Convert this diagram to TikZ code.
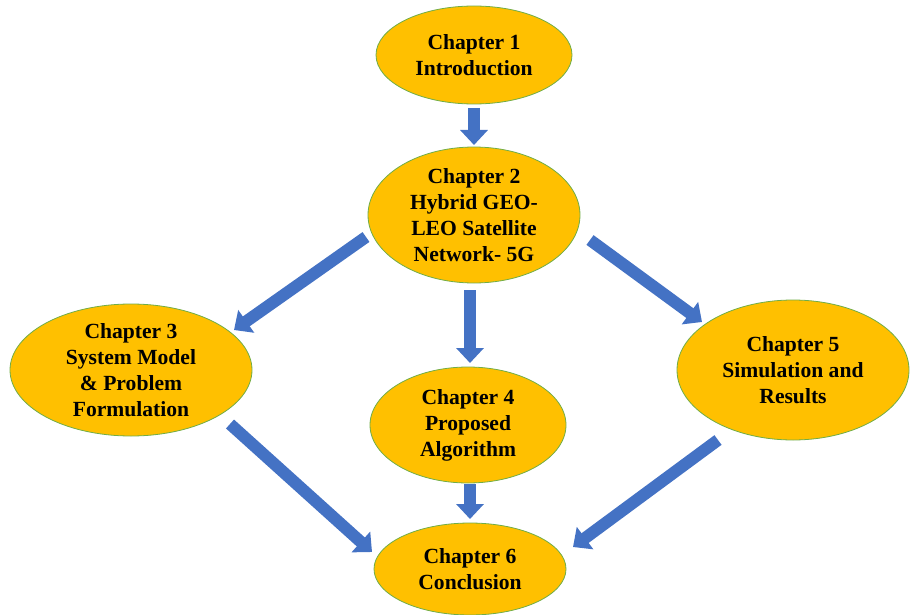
\documentclass[tikz,border=0pt]{standalone}
\usepackage{fontspec}
\setmainfont{Liberation Serif}
\usetikzlibrary{shapes.geometric,arrows.meta}
\definecolor{chfill}{HTML}{FFC000}
\definecolor{chline}{HTML}{70AD47}
\definecolor{arrblue}{HTML}{4472C4}
\tikzset{
  chap/.style={ellipse, fill=chfill, draw=chline, line width=0.8pt, inner sep=0pt, align=center,
    font=\fontsize{21.6}{26}\selectfont\bfseries},
  barr/.style={arrblue, line width=12pt, -{Triangle[width=27pt,length=15pt]}},
}
\begin{document}
\begin{tikzpicture}[x=1pt,y=-1pt]
\useasboundingbox (0,0) rectangle (910,615);
\node[chap, minimum width=196, minimum height=98] (e1) at (474,55) {Chapter 1\\Introduction};
\node[chap, minimum width=212, minimum height=136] (e2) at (474,215) {Chapter 2\\Hybrid GEO-\\LEO Satellite\\Network- 5G};
\node[chap, minimum width=242, minimum height=132] (e3) at (131,370) {Chapter 3\\System Model\\\& Problem\\Formulation};
\node[chap, minimum width=196, minimum height=116] (e4) at (468,425) {Chapter 4\\Proposed\\Algorithm};
\node[chap, minimum width=232, minimum height=140] (e5) at (793,370) {Chapter 5\\Simulation and\\Results};
\node[chap, minimum width=192, minimum height=92] (e6) at (470,569) {Chapter 6\\Conclusion};

\coordinate (a12s) at (474,108); \coordinate (a12e) at (474,145);
\coordinate (a23s) at (366,237); \coordinate (a23e) at (234,330);
\coordinate (a24s) at (470,290); \coordinate (a24e) at (470,363);
\coordinate (a25s) at (590,240); \coordinate (a25e) at (702,322);
\coordinate (a36s) at (230,424); \coordinate (a36e) at (372,552);
\coordinate (a46s) at (470,484); \coordinate (a46e) at (470,519);
\coordinate (a56s) at (718,440); \coordinate (a56e) at (573,547);

\draw[barr] (a12s) -- (a12e);
\draw[barr] (a23s) -- (a23e);
\draw[barr] (a24s) -- (a24e);
\draw[barr] (a25s) -- (a25e);
\draw[barr] (a36s) -- (a36e);
\draw[barr] (a46s) -- (a46e);
\draw[barr] (a56s) -- (a56e);
\end{tikzpicture}
\end{document}
